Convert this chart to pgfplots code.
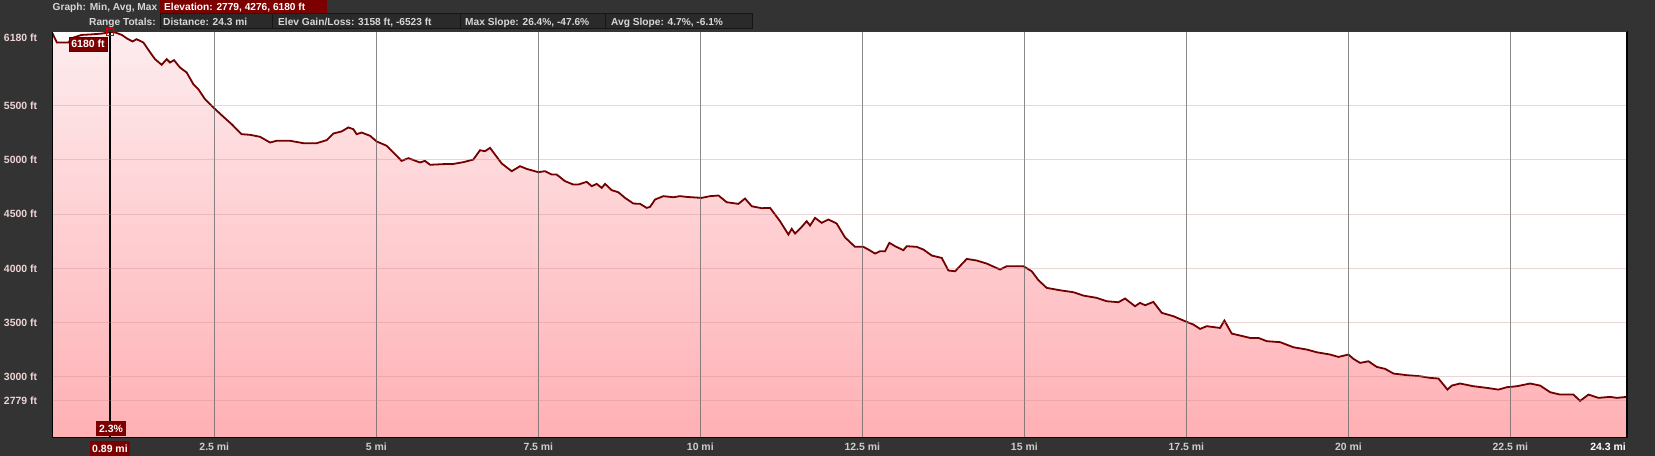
\documentclass[border=0pt]{standalone}
\usepackage{fontspec}
\setmainfont{Liberation Sans}
\usepackage{pgfplots}
\pgfplotsset{compat=1.18}
\usepackage{pgfplotstable}
\definecolor{bgdark}{RGB}{51,51,51}
\definecolor{boxdark}{RGB}{42,42,42}
\definecolor{boxedge}{RGB}{22,22,22}
\definecolor{darkred}{RGB}{125,0,0}
\definecolor{linered}{RGB}{115,0,0}
\definecolor{filltop}{RGB}{253,236,238}
\definecolor{fillbot}{RGB}{255,176,180}
\definecolor{hdr}{RGB}{215,215,215}
\definecolor{ylab}{RGB}{238,212,212}
\definecolor{xlab}{RGB}{205,205,205}
\definecolor{hgrid}{RGB}{200,140,140}
\definecolor{vgrid}{RGB}{100,100,100}

\pgfplotstableread{
x y
0 6168
0.07 6081
0.25 6081
0.3 6120
0.45 6150
0.6 6155
0.75 6162
0.85 6170
0.89 6180
0.97 6173
1.07 6151
1.17 6111
1.24 6090
1.30 6111
1.405 6081
1.51 5989
1.585 5927
1.688 5875
1.765 5927
1.816 5896
1.878 5918
1.97 5850
2.074 5804
2.176 5697
2.253 5651
2.356 5559
2.485 5482
2.64 5396
2.768 5328
2.92 5236
3.05 5230
3.205 5212
3.36 5159
3.46 5175
3.67 5175
3.874 5153
4.08 5153
4.234 5181
4.337 5242
4.465 5261
4.568 5298
4.645 5282
4.697 5236
4.774 5251
4.903 5221
5.005 5169
5.16 5129
5.263 5067
5.39 4990
5.494 5015
5.674 4975
5.75 4990
5.829 4954
6.035 4960
6.19 4962
6.343 4978
6.497 5002
6.6 5088
6.677 5079
6.755 5110
6.832 5048
6.935 4966
7.089 4895
7.218 4941
7.32 4916
7.5 4886
7.603 4895
7.706 4864
7.783 4864
7.912 4803
8.04 4772
8.118 4772
8.246 4797
8.324 4757
8.401 4778
8.478 4741
8.53 4778
8.632 4720
8.735 4701
8.838 4649
8.967 4597
9.07 4594
9.172 4557
9.224 4566
9.301 4634
9.43 4665
9.584 4655
9.687 4665
9.79 4658
10.02 4649
10.15 4665
10.28 4671
10.407 4609
10.587 4594
10.69 4643
10.793 4572
10.947 4554
11.076 4557
11.23 4434
11.359 4311
11.41 4364
11.461 4321
11.564 4382
11.641 4434
11.693 4394
11.77 4465
11.873 4419
11.976 4450
12.104 4413
12.233 4285
12.387 4198
12.516 4198
12.593 4173
12.696 4136
12.773 4158
12.85 4158
12.917 4235
13.005 4204
13.133 4167
13.185 4204
13.339 4198
13.442 4173
13.571 4118
13.725 4096
13.828 3980
13.931 3973
14.111 4087
14.265 4072
14.419 4044
14.625 3989
14.728 4020
14.985 4020
15.114 3973
15.217 3891
15.345 3820
15.551 3798
15.757 3780
15.911 3749
16.117 3728
16.271 3697
16.451 3688
16.554 3722
16.708 3651
16.785 3682
16.863 3660
16.991 3691
17.12 3590
17.3 3559
17.48 3513
17.609 3482
17.712 3442
17.814 3467
18.02 3451
18.087 3519
18.2 3399
18.329 3381
18.484 3359
18.612 3359
18.741 3329
18.947 3320
19.152 3273
19.358 3252
19.512 3227
19.718 3206
19.847 3184
20.001 3206
20.078 3166
20.181 3129
20.31 3144
20.438 3092
20.567 3074
20.696 3031
20.901 3016
21.107 3006
21.261 2991
21.39 2985
21.467 2929
21.529 2883
21.596 2920
21.724 2939
21.93 2914
22.136 2899
22.316 2883
22.445 2905
22.599 2914
22.805 2939
22.959 2920
23.113 2859
23.268 2837
23.473 2837
23.576 2779
23.705 2837
23.859 2807
24.039 2816
24.142 2807
24.3 2816
}\elev

\begin{document}
\begin{tikzpicture}[x=1bp,y=1bp]
\fill[bgdark] (0,0) rectangle (1655,456);
% header row 1
\node[anchor=base west, inner sep=0pt, text=hdr, font=\bfseries\fontsize{10.2}{12}\selectfont] at (52.5,445.7) {Graph: Min, Avg, Max};
\fill[darkred] (160,443) rectangle (327,456);
\node[anchor=base west, inner sep=0pt, text=white, font=\bfseries\fontsize{10.2}{12}\selectfont] at (164,445.7) {Elevation: 2779, 4276, 6180 ft};
% header row 2
\node[anchor=base west, inner sep=0pt, text=hdr, font=\bfseries\fontsize{10.2}{12}\selectfont] at (89,430.3) {Range Totals:};
\filldraw[fill=boxdark, draw=boxedge, line width=1bp] (160,427) rectangle (752,442);
\draw[boxedge, line width=1bp] (272,427) -- (272,442) (460,427) -- (460,442) (605,427) -- (605,442);
\begin{scope}[every node/.style={anchor=base west, inner sep=0pt, text=hdr, font=\bfseries\fontsize{10.2}{12}\selectfont}]
\node at (163,430.3) {Distance: 24.3 mi};
\node at (278,430.3) {Elev Gain/Loss: 3158 ft, -6523 ft};
\node at (465,430.3) {Max Slope: 26.4\%, -47.6\%};
\node at (611,430.3) {Avg Slope: 4.7\%, -6.1\%};
\end{scope}

\begin{axis}[
  at={(52.3bp,18.3bp)}, anchor=south west,
  scale only axis, width=1574.7bp, height=406bp,
  xmin=0, xmax=24.3, ymin=2440, ymax=6180,
  clip mode=individual,
  axis on top,
  axis background/.style={fill=white},
  axis line style={black, line width=1.2bp},
  major tick length=0pt,
  xtick={2.5,5,7.5,10,12.5,15,17.5,20,22.5},
  xticklabels={2.5 mi,5 mi,7.5 mi,10 mi,12.5 mi,15 mi,17.5 mi,20 mi,22.5 mi},
  ytick={2779,3000,3500,4000,4500,5000,5500},
  yticklabels={2779 ft,3000 ft,3500 ft,4000 ft,4500 ft,5000 ft,5500 ft},
  extra y ticks={6180}, extra y tick labels={6180 ft},
  extra y tick style={yticklabel style={yshift=-6bp}},
  extra x ticks={0.89}, extra x tick labels={0.89 mi},
  extra x tick style={grid=none, xticklabel style={fill=darkred, text=white, inner xsep=2.5bp, minimum height=15bp, yshift=-1.5bp}},
  grid=major,
  major x grid style={vgrid, opacity=0.75, line width=1bp},
  major y grid style={hgrid, opacity=0.35, line width=1bp},
  tick label style={font=\bfseries\fontsize{10.5}{12}\selectfont},
  yticklabel style={text=ylab, anchor=east, inner sep=0pt, xshift=-15bp},
  xticklabel style={text=xlab, anchor=center, inner sep=0pt, yshift=-9.3bp},
]
\addplot[draw=none, top color=filltop, bottom color=fillbot] table[x=x,y=y] {\elev} -- (axis cs:24.3,2440) -- (axis cs:0,2440) -- cycle;
\addplot[linered, line width=1.8bp] table[x=x,y=y] {\elev};
\draw[black, line width=1.2bp] (axis cs:0.89,2440) -- (axis cs:0.89,6180);
\addplot[only marks, mark=square, mark size=3.5bp, mark options={draw=red!85!black, line width=1bp}] coordinates {(0.89,6180)};
\node[anchor=north east, fill=darkred, draw=darkred!70!black, text=white, inner xsep=2.6bp, inner ysep=0pt, minimum height=13.4bp, font=\bfseries\fontsize{10.5}{12}\selectfont, xshift=-2.6bp, yshift=-5.6bp] at (axis cs:0.89,6180) {6180 ft};
\node[anchor=south, fill=darkred, text=white, inner xsep=3.4bp, inner ysep=0pt, minimum height=14.3bp, font=\bfseries\fontsize{10.5}{12}\selectfont, xshift=1bp, yshift=1.7bp] at (axis cs:0.89,2440) {2.3\%};
\node[anchor=east, inner sep=0pt, text=white, font=\bfseries\fontsize{10.5}{12}\selectfont, yshift=-9.3bp, xshift=-1bp] at (axis cs:24.3,2440) {24.3 mi};
\end{axis}
\pgfresetboundingbox
\useasboundingbox (0,0) rectangle (1655,456);
\end{tikzpicture}
\end{document}
